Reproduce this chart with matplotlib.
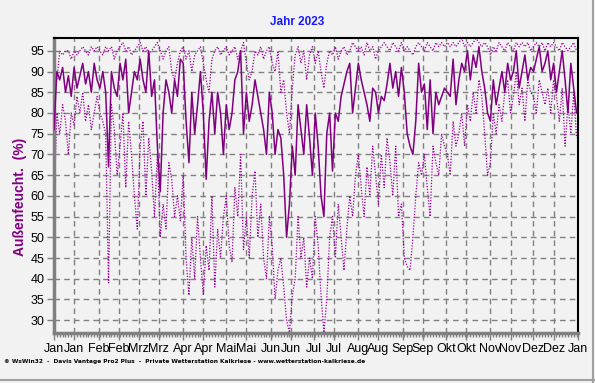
import numpy as np
import matplotlib
matplotlib.use("Agg")
import matplotlib.pyplot as plt
from matplotlib.ticker import MultipleLocator
from matplotlib.lines import Line2D

# day of year (every 2nd day)
days = np.arange(0, 366, 2)

# daily mean humidity (%)
mean_rh = [
    76, 90, 88, 91, 85, 89, 84, 91, 86, 89, 92, 87, 90, 85, 92, 88,
    86, 90, 85, 67, 90, 86, 84, 92, 88, 93, 80, 85, 90, 88,
    93, 88, 85, 95, 84, 88, 72, 61, 80, 88, 85, 80, 88, 84, 93,
    92, 78, 68, 85, 75, 82, 90, 80, 64, 78, 85, 75, 85, 80, 70,
    82, 76, 80, 88, 90, 95, 75, 85, 78, 82, 88, 84, 80, 76, 70,
    85, 80, 70, 76, 74, 65, 50, 58, 72, 65, 82, 76, 70, 82, 74,
    65, 80, 72, 60, 55, 75, 80, 66, 80, 78, 84, 87, 90, 92, 80, 86,
    92, 88, 85, 82, 78, 86, 85, 80, 84, 83, 87, 92, 86, 90, 84, 91,
    85, 75, 72, 70, 78, 92, 85, 87, 76, 88, 75, 85, 82, 84, 86,
    85, 84, 93, 82, 88, 92, 90, 95, 88, 94, 91, 96, 90, 86, 80,
    78, 88, 82, 86, 90, 85, 92, 88, 90, 95, 86, 90, 94, 88, 91,
    90, 93, 96, 90, 92, 95, 88, 92, 85, 90, 95, 88, 80, 92, 86, 80,
]

# daily maximum
max_rh = [
    92, 88, 95, 94, 95, 95, 93, 95, 94, 95, 96, 95, 94, 96, 95, 96,
    95, 94, 96, 95, 96, 93, 95, 96, 97, 95, 96, 94, 95, 96,
    97, 95, 96, 94, 95, 96, 97, 95, 93, 95, 96, 90, 88, 92, 95,
    96, 93, 95, 90, 94, 95, 96, 92, 88, 85, 93, 95, 96, 94, 95,
    96, 94, 95, 96, 93, 95, 97, 92, 88, 90, 95, 94, 96, 93, 95,
    96, 92, 90, 95, 85, 88, 80, 75, 86, 94, 96, 92, 95, 88, 94,
    96, 92, 95, 90, 86, 92, 95, 94, 96, 93, 95, 96, 94, 95, 97, 96,
    95, 96, 94, 97, 95, 96, 93, 95, 96, 97, 96, 95, 97, 96, 95, 97,
    95, 96, 95, 94, 96, 97, 96, 95, 97, 96, 95, 97, 96, 97, 96,
    97, 96, 97, 96, 97, 98, 96, 97, 96, 97, 98, 97, 96, 97, 96,
    94, 96, 95, 97, 96, 95, 97, 96, 95, 97, 96, 97, 96, 97, 95,
    96, 97, 96, 97, 95, 97, 96, 97, 96, 95, 97, 96, 95, 96, 97, 95,
]

# daily minimum
min_rh = [
    58, 80, 75, 82, 78, 70, 80, 77, 84, 80, 85, 78, 82, 76, 80, 84,
    80, 78, 75, 39, 82, 76, 65, 72, 80, 62, 78, 70, 60, 52,
    72, 78, 60, 74, 66, 55, 70, 50, 58, 52, 68, 64, 55, 60, 54,
    65, 45, 36, 50, 40, 55, 45, 36, 48, 42, 60, 38, 52, 45, 55,
    60, 48, 44, 62, 55, 70, 47, 55, 45, 60, 66, 50, 58, 45, 40,
    55, 48, 35, 42, 45, 38, 30, 27, 36, 40, 55, 45, 50, 38, 45,
    40, 55, 48, 36, 27, 35, 50, 55, 45, 58, 50, 42, 52, 60, 55, 65,
    70, 62, 55, 67, 60, 72, 65, 58, 70, 62, 74, 68, 60, 72, 55, 58,
    45, 43, 42, 50, 60, 68, 65, 70, 62, 55, 72, 68, 65, 75, 72,
    70, 65, 78, 72, 75, 80, 72, 82, 78, 85, 80, 88, 84, 75, 65,
    68, 80, 75, 82, 78, 85, 88, 80, 84, 90, 82, 86, 78, 88, 85,
    84, 80, 88, 85, 82, 86, 80, 88, 84, 78, 86, 72, 82, 75, 85, 74,
]

tick_days = [0, 14, 31, 45, 59, 73, 90, 104, 120, 134, 151, 165, 181, 195,
             212, 226, 243, 257, 273, 287, 304, 318, 334, 348, 365]
tick_labels = ["Jan", "Jan", "Feb", "Feb", "Mrz", "Mrz", "Apr", "Apr", "Mai", "Mai",
               "Jun", "Jun", "Jul", "Jul", "Aug", "Aug", "Sep", "Sep", "Okt", "Okt",
               "Nov", "Nov", "Dez", "Dez", "Jan"]

bg = "#f2f2f2"
plt.rcParams["font.family"] = ["Liberation Sans", "DejaVu Sans"]

fig = plt.figure(figsize=(5.95, 3.83), dpi=100, facecolor=bg)
ax = fig.add_axes([54 / 595, 50 / 383, 524 / 595, 295 / 383], facecolor=bg)

ax.plot(days, max_rh, color="#990099", lw=0.9, ls=(0, (1, 1.3)), zorder=2)
ax.plot(days, min_rh, color="#990099", lw=0.9, ls=(0, (1, 1.3)), zorder=2)
ax.plot(days, mean_rh, color="#800080", lw=1.1, zorder=3)

ax.set_xlim(0, 365)
ax.set_ylim(26.9, 98.1)
ax.set_xticks(tick_days)
ax.set_xticklabels(tick_labels)
ax.xaxis.set_minor_locator(MultipleLocator(2))
ax.set_yticks(range(30, 100, 5))

ax.grid(True, which="major", color="#808080", ls=(0, (4, 3)), lw=1.0)
ax.tick_params(axis="both", which="major", labelsize=9, length=5, width=1, color="#808080", pad=2)
ax.tick_params(axis="x", which="minor", length=3, width=1, color="#808080")

for s in ("left", "bottom"):
    ax.spines[s].set_color("#808080")
    ax.spines[s].set_linewidth(2.5)
for s in ("top", "right"):
    ax.spines[s].set_color("black")
    ax.spines[s].set_linewidth(1.5)

fig.text(0.5, 1 - 22 / 383, "Jahr 2023", color="#1a1aff", fontsize=8.5,
         fontweight="bold", ha="center", va="center")
fig.text(20 / 595, 1 - 197 / 383, "Außenfeucht.  (%)", color="#800080", fontsize=10,
         fontweight="bold", rotation=90, ha="center", va="center")
fig.text(4 / 595, 1 - 362 / 383,
         "© WsWin32  -  Davis Vantage Pro2 Plus  -  Private Wetterstation Kalkriese - www.wetterstation-kalkriese.de",
         fontsize=4.2, fontweight="bold", ha="left", va="center", family="DejaVu Sans")

# frame at right/bottom of the window
fig.add_artist(Line2D([593 / 595, 593 / 595], [0, 1], color="#a0a0a0", lw=1.5, transform=fig.transFigure))
fig.add_artist(Line2D([0, 1], [3 / 383, 3 / 383], color="#a0a0a0", lw=1.5, transform=fig.transFigure))

fig.savefig("out.png", dpi=100, facecolor=bg)
